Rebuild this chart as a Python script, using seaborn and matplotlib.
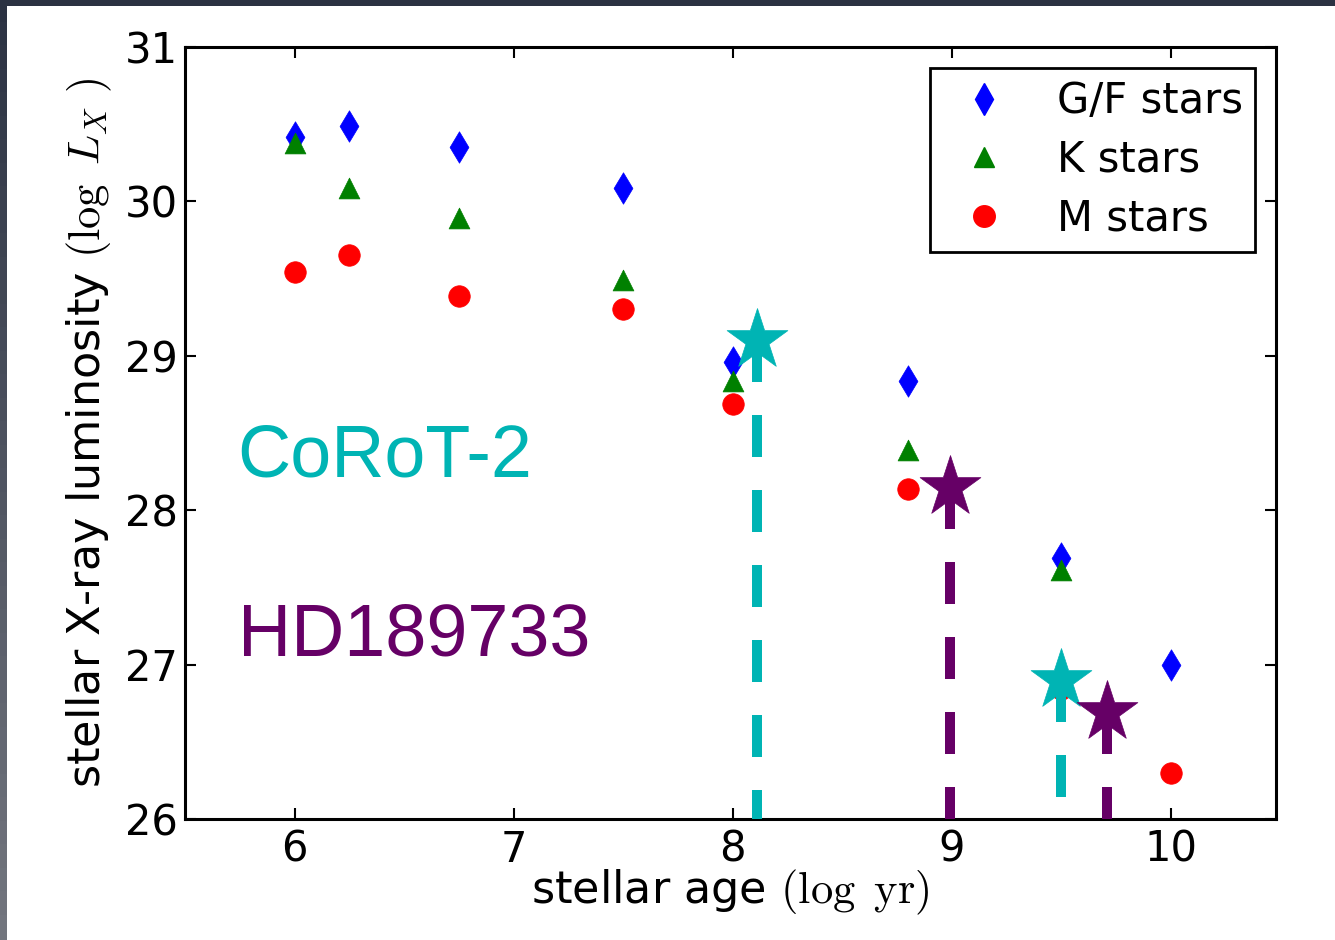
import numpy as np
import pandas as pd
import matplotlib
matplotlib.use("Agg")
import matplotlib.pyplot as plt
from matplotlib.patches import Rectangle
from matplotlib.lines import Line2D
import seaborn as sns

# ---- data ----
gf_age = [6.0, 6.25, 6.75, 7.5, 8.0, 8.8, 9.5, 10.0]
gf_lx = [30.42, 30.49, 30.35, 30.09, 28.96, 28.84, 27.69, 27.0]
k_age = [6.0, 6.25, 6.75, 7.5, 8.0, 8.8, 9.5]
k_lx = [30.38, 30.09, 29.89, 29.49, 28.84, 28.39, 27.61]
m_age = [6.0, 6.25, 6.75, 7.5, 8.0, 8.8, 9.5, 10.0]
m_lx = [29.54, 29.65, 29.39, 29.30, 28.69, 28.14, 26.84, 26.30]

corot_age = [8.11, 9.50]
corot_lx = [29.10, 26.90]
hd_age = [8.99, 9.71]
hd_lx = [28.15, 26.69]

series_labels = ["G/F stars", "K stars", "M stars"]
xticks = [6, 7, 8, 9, 10]
yticks = [26, 27, 28, 29, 30, 31]

CYAN = "#00b4b4"
PURPLE = "#660066"

sns.set_style("ticks")
plt.rcParams["font.family"] = ["DejaVu Sans"]
plt.rcParams["mathtext.fontset"] = "cm"
plt.rcParams["xtick.direction"] = "in"
plt.rcParams["ytick.direction"] = "in"
plt.rcParams["xtick.top"] = True
plt.rcParams["ytick.right"] = True
for k in ["text.color", "axes.labelcolor", "xtick.color", "ytick.color",
          "xtick.labelcolor", "ytick.labelcolor", "axes.edgecolor"]:
    plt.rcParams[k] = "black"

fig = plt.figure(figsize=(13.35, 9.4), dpi=100)
fig.patch.set_facecolor("white")

# slide frame (dark gradient bands at top and left)
W, H = 1335, 940
n = 40
top_c = np.array([0x2b, 0x32, 0x42]) / 255
bot_c = np.array([0x72, 0x75, 0x7e]) / 255
for i in range(n):
    f = i / (n - 1)
    c = top_c * (1 - f) + bot_c * f
    y0 = 1 - (i + 1) / n
    fig.patches.append(Rectangle((0, y0), 7 / W, 1 / n + 0.002, transform=fig.transFigure,
                                 facecolor=c, edgecolor="none", zorder=-10))
fig.patches.append(Rectangle((0, 1 - 6 / H), 1, 6 / H, transform=fig.transFigure,
                             facecolor=top_c, edgecolor="none", zorder=-10))

ax = fig.add_axes([185 / W, 1 - 819 / H, (1276 - 185) / W, (819 - 47) / H])

df_gf = pd.DataFrame({"age": gf_age, "lx": gf_lx})
df_k = pd.DataFrame({"age": k_age, "lx": k_lx})
df_m = pd.DataFrame({"age": m_age, "lx": m_lx})

sns.scatterplot(data=df_gf, x="age", y="lx", marker="d", s=16**2, color="blue",
                edgecolor="blue", linewidth=0.5, ax=ax, zorder=3, legend=False)
sns.scatterplot(data=df_k, x="age", y="lx", marker="^", s=15**2, color="green",
                edgecolor="green", linewidth=0.5, ax=ax, zorder=3, legend=False)
sns.scatterplot(data=df_m, x="age", y="lx", marker="o", s=15.5**2, color="red",
                edgecolor="red", linewidth=0.5, ax=ax, zorder=3, legend=False)

# vertical dashed lines from planets' host stars down to axis
for ages, lxs, col in [(corot_age, corot_lx, CYAN), (hd_age, hd_lx, PURPLE)]:
    for a, l in zip(ages, lxs):
        ax.plot([a, a], [l, yticks[0]], color=col, lw=7.2, dashes=(4.2, 3.3),
                solid_capstyle="butt", dash_capstyle="butt", zorder=4)
sns.scatterplot(x=corot_age, y=corot_lx, marker="*", s=46**2, color=CYAN,
                edgecolor=CYAN, linewidth=0.5, ax=ax, zorder=5, legend=False)
sns.scatterplot(x=hd_age, y=hd_lx, marker="*", s=46**2, color=PURPLE,
                edgecolor=PURPLE, linewidth=0.5, ax=ax, zorder=5, legend=False)

ax.text(5.74, 28.22, "CoRoT-2", color=CYAN, fontsize=53,
        family=["Liberation Sans"], va="baseline", ha="left")
ax.text(5.74, 27.06, "HD189733", color=PURPLE, fontsize=53,
        family=["Liberation Sans"], va="baseline", ha="left")

ax.set_xlim(5.5, 10.48)
ax.set_ylim(26, 31)
ax.set_xticks(xticks)
ax.set_yticks(yticks)
ax.tick_params(axis="both", labelsize=30, length=8, width=1.5, color="black")
ax.tick_params(axis="y", pad=5)
ax.tick_params(axis="x", pad=7)
for sp in ax.spines.values():
    sp.set_linewidth(2.2)
    sp.set_color("black")

ax.set_xlabel(r"stellar age $(\log\ \mathrm{yr})$", fontsize=32, labelpad=-2)
ax.set_ylabel(r"stellar X-ray luminosity $(\log\ L_X\ )$", fontsize=32, labelpad=8)

handles = [
    Line2D([], [], ls="none", marker="d", ms=16, color="blue"),
    Line2D([], [], ls="none", marker="^", ms=15, color="green"),
    Line2D([], [], ls="none", marker="o", ms=15.5, color="red"),
]
leg = ax.legend(handles, series_labels, loc="upper right", fontsize=30,
                frameon=True, fancybox=False, shadow=False, framealpha=1,
                numpoints=1, borderpad=0.3, labelspacing=0.4, handlelength=2.0,
                handletextpad=0.75, borderaxespad=0.5)
leg.get_frame().set_edgecolor("black")
leg.get_frame().set_linewidth(2.0)

fig.savefig("out.png", dpi=100, facecolor=fig.get_facecolor())
